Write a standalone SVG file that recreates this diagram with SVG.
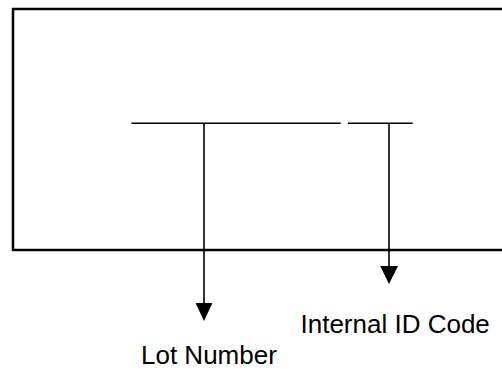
<svg xmlns="http://www.w3.org/2000/svg" width="502" height="371" viewBox="0 0 502 371">
  <style>
    .frame { fill: none; stroke: #000; stroke-width: 2.5; }
    .field { fill: none; stroke: #000; stroke-width: 1.6; }
    .lead { fill: none; stroke: #000; stroke-width: 1.6; }
    .head { fill: #000; stroke: none; }
    .label { font-family: "Liberation Sans", Arial, sans-serif; font-size: 26px; fill: #000; }
  </style>
  <rect x="0" y="0" width="502" height="371" fill="#fff"/>

  <!-- label panel -->
  <g id="panel">
    <rect class="frame" x="13" y="9" width="500" height="241"/>
  </g>

  <!-- printed fields on the panel -->
  <g id="lot-field">
    <line class="field" x1="131.5" y1="123.3" x2="340.7" y2="123.3"/>
  </g>
  <g id="id-field">
    <line class="field" x1="348" y1="123.3" x2="412.7" y2="123.3"/>
  </g>

  <!-- callout leaders -->
  <g id="connectors">
    <line class="lead" x1="204" y1="123.3" x2="204" y2="305"/>
    <polygon class="head" points="195.5,303 212.5,303 204,321"/>
    <line class="lead" x1="389" y1="123.3" x2="389" y2="268"/>
    <polygon class="head" points="380.2,266 398,266 389,284"/>
  </g>

  <g id="id-label">
    <text class="label" x="300.5" y="333">Internal ID Code</text>
  </g>
  <g id="lot-label">
    <text class="label" x="141" y="364">Lot Number</text>
  </g>
</svg>
